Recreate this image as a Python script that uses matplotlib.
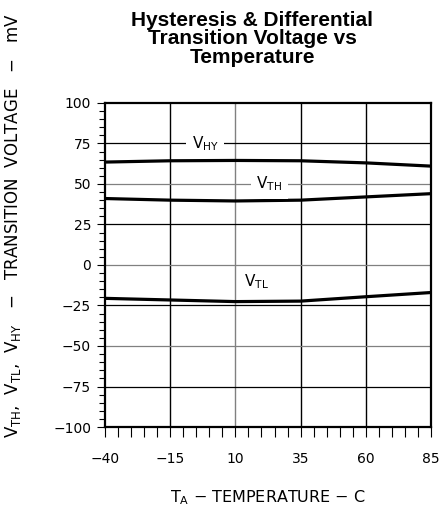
import matplotlib
matplotlib.use("Agg")
import matplotlib.pyplot as plt
from matplotlib.ticker import MultipleLocator

# data
temp = [-40, -15, 10, 35, 60, 85]
v_hy = [63.5, 64.3, 64.5, 64.3, 63.0, 61.0]
v_th = [41.0, 40.0, 39.5, 40.0, 42.0, 44.0]
v_tl = [-20.6, -21.6, -22.6, -22.3, -19.6, -17.0]

xticks = [-40, -15, 10, 35, 60, 85]
yticks = [-100, -75, -50, -25, 0, 25, 50, 75, 100]

plt.rcParams['font.family'] = ['DejaVu Sans']
plt.rcParams['mathtext.fontset'] = 'dejavusans'

fig = plt.figure(figsize=(4.43, 5.08), dpi=100)
ax = fig.add_axes([0.237, 0.1594, 0.736, 0.638])

ax.set_xlim(-40, 85)
ax.set_ylim(-100, 100)

# grid lines, alternating dark / gray like the datasheet
for x in [-15, 35, 60]:
    ax.axvline(x, color='black', lw=1.0, zorder=1)
for x in [10]:
    ax.axvline(x, color='#808080', lw=1.0, zorder=1)
for y in [75, 25, -25, -75]:
    ax.axhline(y, color='black', lw=0.9, zorder=1)
for y in [50, 0, -50]:
    ax.axhline(y, color='#808080', lw=0.9, zorder=1)

for s in [v_hy, v_th, v_tl]:
    ax.plot(temp, s, color='black', lw=2.3, zorder=3)

lbl = dict(fontsize=11, ha='center', va='center', zorder=4,
           bbox=dict(facecolor='white', edgecolor='none', pad=4))
ax.text(-1.5, 75, r'V$_{\mathrm{HY}}$', **lbl)
ax.text(23, 50, r'V$_{\mathrm{TH}}$', **lbl)
ax.text(18, -10, r'V$_{\mathrm{TL}}$', fontsize=11, ha='center', va='center')

ax.set_xticks(xticks)
ax.set_yticks(yticks)
ax.set_xticklabels([str(t).replace('-', '\u2212') for t in xticks])
ax.set_yticklabels([str(t).replace('-', '\u2212') for t in yticks])
ax.xaxis.set_minor_locator(MultipleLocator(5))
ax.yaxis.set_minor_locator(MultipleLocator(5))
ax.tick_params(axis='both', which='both', direction='out', color='black',
               labelsize=10)
ax.tick_params(axis='x', which='both', length=7, width=0.8, pad=11)
ax.tick_params(axis='y', which='major', length=6, width=0.8, pad=4)
ax.tick_params(axis='y', which='minor', length=4, width=0.8)

for sp in ax.spines.values():
    sp.set_linewidth(1.6)

ax.set_xlabel('T$_{\\mathrm{A}}$ \u2212 TEMPERATURE \u2212 C',
              fontsize=11.5, labelpad=16)
ax.set_ylabel('V$_{\\mathrm{TH}}$,  V$_{\\mathrm{TL}}$,  V$_{\\mathrm{HY}}$   '
              '\u2212   TRANSITION  VOLTAGE   \u2212   mV', fontsize=12)
ax.yaxis.set_label_coords(-0.25, 0.62)

fig.text(0.569, 0.978, 'Hysteresis & Differential\nTransition Voltage vs\nTemperature',
         ha='center', va='top', fontsize=15, fontweight='bold',
         family='Liberation Sans', linespacing=0.95)

fig.savefig('out.png', dpi=100)
